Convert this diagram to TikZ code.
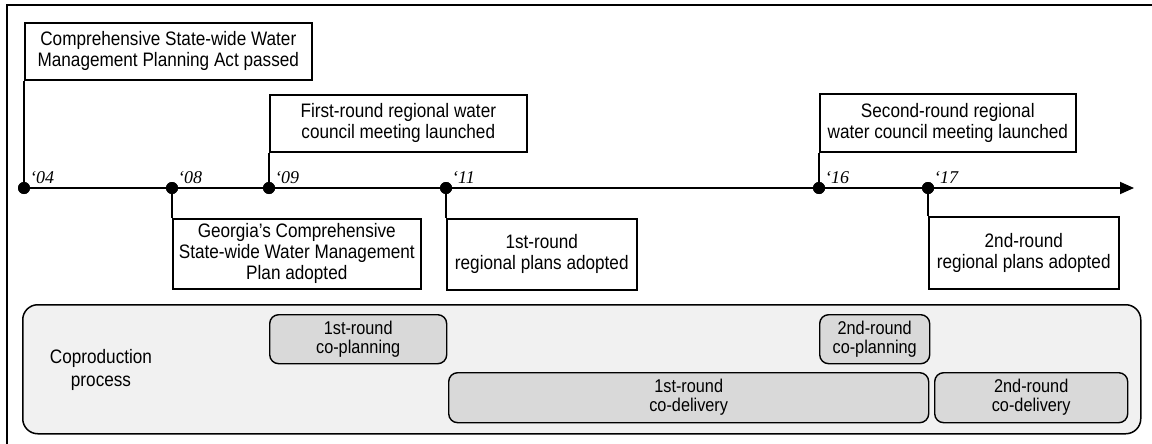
\documentclass[tikz,border=0pt]{standalone}
\usepackage{fontspec}
\setmainfont{Liberation Sans}[FakeStretch=0.88]
\newfontfamily\yearfont{Liberation Serif}
\usetikzlibrary{arrows.meta}
\definecolor{cofill}{HTML}{D9D9D9}
\definecolor{bgfill}{HTML}{F1F1F1}
\begin{document}
\begin{tikzpicture}[x=1pt,y=-1pt,
  evbox/.style={draw, line width=1.6pt, fill=white, align=center, inner sep=0pt, anchor=north west, font=\fontsize{19.5}{21}\selectfont},
  dotnode/.style={circle, fill=black, inner sep=0pt, minimum size=12pt},
  yr/.style={anchor=base west, inner sep=0pt, font=\yearfont\itshape\fontsize{18}{20}\selectfont},
  conn/.style={line width=1.8pt},
  cobox/.style={draw, line width=1.4pt, rounded corners=9pt, fill=cofill, align=center, inner sep=0pt, anchor=north west, font=\fontsize{18.5}{19}\selectfont},
]
\useasboundingbox (0,0) rectangle (1152,444);
% frame
\draw[line width=1.3pt] (7,444) -- (7,5) -- (1152,5);

% timeline
\node[dotnode] (d04) at (24,188) {};
\node[dotnode] (d08) at (172,188) {};
\node[dotnode] (d09) at (269,188) {};
\node[dotnode] (d11) at (446,188) {};
\node[dotnode] (d16) at (819,188) {};
\node[dotnode] (d17) at (928,188) {};
\coordinate (tend) at (1134,188);
\draw[conn, -{Triangle[length=14pt,width=12pt]}] (d04.center) -- (tend);

% year labels
\node[yr] (y04) at (30,183) {‘04};
\node[yr] (y08) at (178,183) {‘08};
\node[yr] (y09) at (275,183) {‘09};
\node[yr] (y11) at (452,183) {‘11};
\node[yr] (y16) at (825,183) {‘16};
\node[yr] (y17) at (934,183) {‘17};

% upper boxes
\node[evbox, minimum width=287pt, minimum height=57pt] (ba) at (24,22)
  {Comprehensive State-wide Water\\Management Planning Act passed};
\node[evbox, minimum width=257pt, minimum height=57pt] (bb) at (269,94)
  {First-round regional water\\council meeting launched};
\node[evbox, minimum width=256pt, minimum height=58pt] (bc) at (819,93)
  {Second-round regional\\water council meeting launched};

% lower boxes
\node[evbox, minimum width=248pt, minimum height=70pt] (bd) at (172,218)
  {Georgia’s Comprehensive\\State-wide Water Management\\Plan adopted};
\node[evbox, minimum width=190pt, minimum height=71pt] (be) at (446,218)
  {1st-round\\regional plans adopted};
\node[evbox, minimum width=190pt, minimum height=72pt] (bf) at (928,216)
  {2nd-round\\regional plans adopted};

% connectors
\draw[conn] (d04.center) -- (ba.south west);
\draw[conn] (d09.center) -- (bb.south west);
\draw[conn] (d16.center) -- (bc.south west);
\draw[conn] (d08.center) -- (bd.north west);
\draw[conn] (d11.center) -- (be.north west);
\draw[conn] (d17.center) -- (bf.north west);
\foreach \x in {24,172,269,446,819,928}
  \fill (\x,188) circle (6pt);

% coproduction process
\node[draw, line width=1.5pt, rounded corners=15pt, fill=bgfill, minimum width=1118pt, minimum height=129pt, anchor=north west, inner sep=0pt] (cp) at (22,304) {};
\node[align=center, inner sep=0pt, font=\fontsize{19.5}{23}\selectfont] (cpl) at (101,370) {Coproduction\\process};
\node[cobox, minimum width=177pt, minimum height=49pt] (cp1) at (269,314) {1st-round\\co-planning};
\node[cobox, minimum width=110pt, minimum height=49pt] (cp2) at (819,314) {2nd-round\\co-planning};
\node[cobox, minimum width=480pt, minimum height=50pt] (cd1) at (448,372) {1st-round\\co-delivery};
\node[cobox, minimum width=193pt, minimum height=50pt] (cd2) at (934,372) {2nd-round\\co-delivery};
\end{tikzpicture}
\end{document}
